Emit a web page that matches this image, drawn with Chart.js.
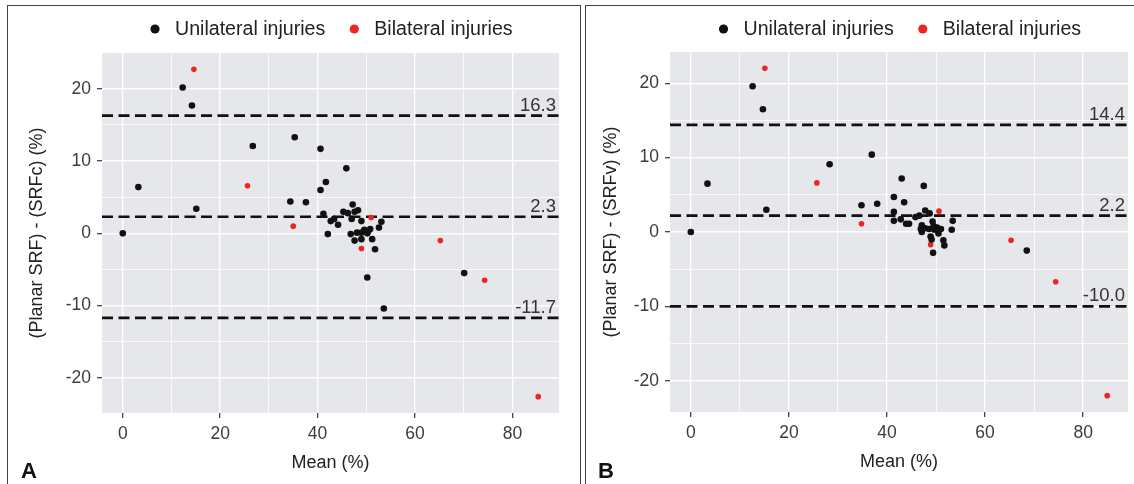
<!DOCTYPE html>
<html>
<head>
<meta charset="utf-8">
<title>Bland-Altman plots</title>
<script src="https://cdn.jsdelivr.net/npm/chart.js@4.4.1/dist/chart.umd.min.js"></script>
<style>
  body { margin: 0; width: 1134px; height: 484px; background: #fff; overflow: hidden; position: relative; }
  .panel { position: absolute; top: 5px; height: 520px; border: 1.6px solid #444; box-sizing: border-box; }
  #panelA { left: 7px; width: 574px; }
  #panelB { left: 585px; width: 560px; }
  canvas { position: absolute; top: 8px; }
  #chartA { left: 9px; }
  #chartB { left: 587px; }
  .tag { position: absolute; top: 460px; font: bold 22px "Liberation Sans", Arial, sans-serif; line-height: 22px; color: #111; }
</style>
</head>
<body>
<div class="panel" id="panelA"></div>
<div class="panel" id="panelB"></div>
<canvas id="chartA" width="570" height="476"></canvas>
<canvas id="chartB" width="546" height="476"></canvas>
<div class="tag" style="left:21px">A</div>
<div class="tag" style="left:598px">B</div>
<script>
// series names and colours
const seriesNames = ['Unilateral injuries', 'Bilateral injuries'];
const seriesColors = ['#111111', '#ee2424'];

// tick labels shown on the axes
const xTickLabels = [0, 20, 40, 60, 80];
const yTickLabels = [-20, -10, 0, 10, 20];

// panel A: planar SRF vs SRFc
const aUniMean = [0, 3.2, 12.3, 14.2, 15.1, 26.7, 35.3, 34.4, 37.6, 40.6, 40.6, 41.7, 41.2, 45.9,
  42.1, 42.7, 43.4, 44.2, 45.3, 46.2, 47.2, 47.0, 47.6, 48.3, 49.0, 46.8, 47.6, 48.1, 49.0, 49.0,
  49.6, 50.2, 50.4, 50.8, 51.2, 51.8, 52.6, 53.1, 50.2, 53.6, 70.1];
const aUniDiff = [0, 6.4, 20.2, 17.7, 3.4, 12.1, 13.3, 4.4, 4.3, 11.7, 6.0, 7.1, 2.7, 9.0,
  -0.1, 1.7, 2.0, 1.2, 3.0, 2.8, 4.0, 2.0, 3.0, 3.2, 1.7, -0.1, -1.0, 0.1, 0.1, -0.8,
  0.5, 0.0, 0.3, 0.6, -0.8, -2.2, 0.8, 1.6, -6.1, -10.4, -5.5];
const aBiMean = [14.6, 25.6, 35.0, 51.0, 49.0, 65.2, 74.3, 85.3];
const aBiDiff = [22.7, 6.6, 1.0, 2.2, -2.1, -1.0, -6.5, -22.6];
const aLimits = [16.3, 2.3, -11.7];

// panel B: planar SRF vs SRFv
const bUniMean = [0, 3.4, 12.6, 14.7, 15.4, 28.3, 36.9, 34.8, 38.0, 41.4, 43.0, 43.5, 47.5, 41.4,
  41.4, 42.8, 43.9, 44.5, 45.8, 46.6, 47.8, 48.7, 53.4, 53.2, 47.1, 46.9, 47.1, 47.8, 48.6, 49.3,
  49.5, 49.7, 48.9, 49.1, 49.4, 50.2, 51.0, 50.5, 51.5, 51.7, 68.5];
const bUniDiff = [0, 6.5, 19.6, 16.5, 3.0, 9.1, 10.4, 3.6, 3.8, 4.7, 7.2, 4.0, 6.2, 2.7,
  1.5, 1.7, 1.1, 1.1, 2.0, 2.2, 2.9, 2.5, 1.5, 0.3, 0.9, 0.4, 0.0, 0.5, 0.4, 1.4,
  0.8, 0.3, -0.6, -1.0, -2.8, 0.6, 0.4, -0.2, -1.1, -1.8, -2.5];
const bBiMean = [15.1, 25.7, 34.8, 50.6, 48.9, 65.3, 74.4, 84.9];
const bBiDiff = [22.0, 6.6, 1.1, 2.8, -1.7, -1.1, -6.7, -22.0];
const bLimits = [14.4, 2.2, -10.0];

const FONT = '"Liberation Sans", Arial, sans-serif';

function toPoints(xs, ys) {
  return xs.map((x, i) => ({ x: x, y: ys[i] }));
}

// ggplot-like 5% expansion of the data range
function expand(values) {
  const lo = Math.min(...values), hi = Math.max(...values);
  const pad = (hi - lo) * 0.05;
  return [lo - pad, hi + pad];
}

const panelBg = {
  id: 'panelBg',
  beforeDraw(chart) {
    const { ctx, chartArea: a } = chart;
    ctx.save();
    ctx.fillStyle = '#e5e7ea';
    ctx.fillRect(a.left, a.top, a.right - a.left, a.bottom - a.top);
    ctx.restore();
  }
};

const limitLabels = {
  id: 'limitLabels',
  afterDatasetsDraw(chart, args, opts) {
    const { ctx, chartArea: a, scales } = chart;
    ctx.save();
    ctx.font = '18.5px ' + FONT;
    ctx.fillStyle = '#333';
    ctx.textAlign = 'right';
    ctx.textBaseline = 'alphabetic';
    opts.values.forEach(v => {
      ctx.fillText(v.toFixed(1), a.right - 3, scales.y.getPixelForValue(v) - 5);
    });
    ctx.restore();
  }
};

const dotLegend = {
  id: 'dotLegend',
  afterDraw(chart, args, opts) {
    const { ctx, chartArea: a } = chart;
    const items = chart.data.datasets.filter(d => d.inLegend);
    ctx.save();
    ctx.font = '19.6px ' + FONT;
    const r = 4.6, gapDot = 20, gapItem = 29;
    const widths = items.map(d => ctx.measureText(d.label).width);
    let total = r;
    widths.forEach((w, i) => { total += (i > 0 ? gapItem : 0) + gapDot + w; });
    let cx = (a.left + a.right) / 2 + 1 - total / 2 + r;
    ctx.textBaseline = 'middle';
    items.forEach((d, i) => {
      ctx.fillStyle = d.backgroundColor;
      ctx.beginPath();
      ctx.arc(cx, opts.y, r, 0, Math.PI * 2);
      ctx.fill();
      ctx.fillStyle = '#222';
      ctx.fillText(d.label, cx + gapDot, opts.y + 1);
      cx += gapDot + widths[i] + gapItem;
    });
    ctx.restore();
  }
};

function makeChart(id, p) {
  const xr = expand(p.uniMean.concat(p.biMean));
  const yr = expand(p.uniDiff.concat(p.biDiff));
  const isMajorX = c => c.tick && c.tick.value % 20 === 0;
  const isMajorY = c => c.tick && c.tick.value % 10 === 0;

  const datasets = [
    { label: seriesNames[0], data: toPoints(p.uniMean, p.uniDiff), backgroundColor: seriesColors[0],
      pointRadius: 3.3, pointBorderWidth: 0, inLegend: true },
    { label: seriesNames[1], data: toPoints(p.biMean, p.biDiff), backgroundColor: seriesColors[1],
      pointRadius: 2.8, pointBorderWidth: 0, inLegend: true }
  ];
  p.limits.forEach(v => {
    datasets.push({
      type: 'line', label: 'limit ' + v, data: [{ x: xr[0], y: v }, { x: xr[1], y: v }],
      showLine: true, borderColor: '#111', borderWidth: 2.6, borderDash: [11, 5.5],
      pointRadius: 0, fill: false, inLegend: false
    });
  });

  return new Chart(document.getElementById(id), {
    type: 'scatter',
    data: { datasets: datasets },
    plugins: [panelBg, limitLabels, dotLegend],
    options: {
      responsive: false,
      animation: false,
      events: [],
      layout: { padding: { top: p.top, right: p.right, bottom: 0, left: 0 } },
      plugins: {
        legend: { display: false },
        tooltip: { enabled: false },
        limitLabels: { values: p.limits },
        dotLegend: { y: 21 }
      },
      scales: {
        x: {
          type: 'linear', min: xr[0], max: xr[1],
          afterFit: s => { s.height = p.xAxisH; },
          border: { display: false },
          grid: {
            color: '#fff', lineWidth: c => isMajorX(c) ? 1.4 : 0.8,
            tickLength: 5, tickWidth: 1.2,
            tickColor: c => isMajorX(c) ? '#333' : 'rgba(0,0,0,0)'
          },
          ticks: {
            stepSize: 10, includeBounds: false, autoSkip: false, maxRotation: 0, padding: 6,
            color: '#3c3c3c', font: { family: FONT, size: 17.5 },
            callback: v => xTickLabels.includes(v) ? String(v) : ''
          },
          title: {
            display: true, text: 'Mean (%)', color: '#222', font: { family: FONT, size: 18 },
            padding: { top: 0, bottom: p.xTitlePad }
          }
        },
        y: {
          type: 'linear', min: yr[0], max: yr[1],
          afterFit: s => { s.width = p.yAxisW; },
          border: { display: false },
          grid: {
            color: '#fff', lineWidth: c => isMajorY(c) ? 1.4 : 0.8,
            tickLength: 5, tickWidth: 1.2,
            tickColor: c => isMajorY(c) ? '#333' : 'rgba(0,0,0,0)'
          },
          ticks: {
            stepSize: 5, includeBounds: false, autoSkip: false, padding: 6,
            color: '#3c3c3c', font: { family: FONT, size: 17.5 },
            callback: v => yTickLabels.includes(v) ? String(v) : ''
          },
          title: {
            display: true, text: p.yTitle, color: '#222', font: { family: FONT, size: 18 },
            padding: { top: p.yTitlePad, bottom: 0 }
          }
        }
      }
    }
  });
}

makeChart('chartA', {
  uniMean: aUniMean, uniDiff: aUniDiff, biMean: aBiMean, biDiff: aBiDiff, limits: aLimits,
  yTitle: '(Planar SRF) - (SRFc) (%)',
  top: 45, right: 20, yAxisW: 93, xAxisH: 71, yTitlePad: 17, xTitlePad: 10
});

makeChart('chartB', {
  uniMean: bUniMean, uniDiff: bUniDiff, biMean: bBiMean, biDiff: bBiDiff, limits: bLimits,
  yTitle: '(Planar SRF) - (SRFv) (%)',
  top: 44, right: 5, yAxisW: 83, xAxisH: 72, yTitlePad: 13, xTitlePad: 11
});
</script>
</body>
</html>
